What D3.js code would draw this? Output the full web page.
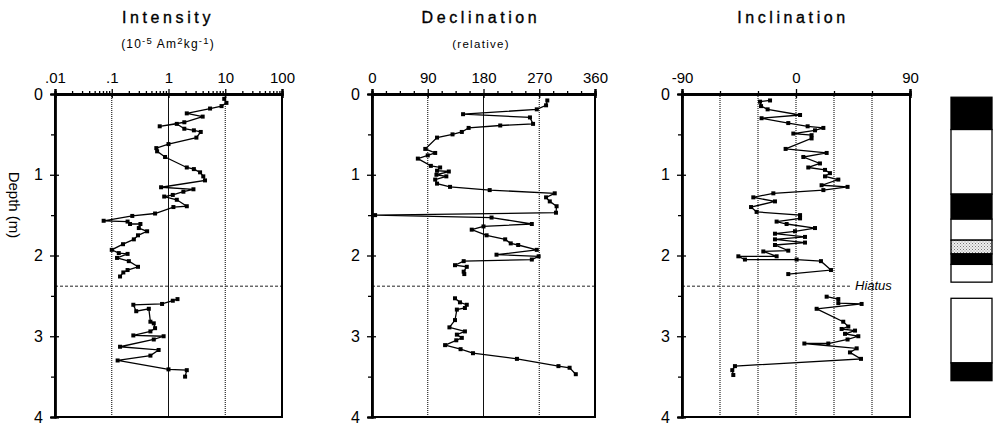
<!DOCTYPE html>
<html>
<head>
<meta charset="utf-8">
<script src="https://cdn.jsdelivr.net/npm/d3@7"></script>
<style>
  body { margin: 0; background: #fff; }
  svg { display: block; font-family: "Liberation Sans", Arial, sans-serif; }
</style>
</head>
<body>
<svg id="chart" width="996" height="424"></svg>
<script>
// depth (m), value
const intensityUpper = [
    [0.06, 9.6], [0.11, 10.5], [0.15, 8.6], [0.18, 5.4], [0.24, 2.1], [0.28, 4.0],
    [0.35, 1.9], [0.40, 0.70], [0.37, 1.4], [0.43, 1.9], [0.45, 2.8], [0.47, 3.7],
    [0.54, 3.1], [0.62, 1.0], [0.67, 0.61], [0.71, 0.63], [0.78, 0.87], [0.91, 2.1],
    [0.93, 2.8], [0.97, 3.6], [1.02, 4.1], [1.07, 4.4], [1.155, 0.74], [1.18, 2.75],
    [1.21, 1.83], [1.25, 1.19], [1.27, 0.84], [1.31, 1.4], [1.39, 2.1], [1.40, 1.22],
    [1.48, 0.58], [1.51, 0.23], [1.57, 0.072], [1.58, 0.19], [1.61, 0.21], [1.61, 0.32],
    [1.66, 0.30], [1.70, 0.42], [1.75, 0.29], [1.80, 0.245], [1.86, 0.158], [1.93, 0.10],
    [1.97, 0.133], [1.98, 0.19], [2.03, 0.124], [2.07, 0.20], [2.14, 0.29], [2.18, 0.19],
    [2.21, 0.16], [2.26, 0.14]
];
const intensityLower = [
    [2.54, 1.44], [2.56, 1.19], [2.60, 0.77], [2.61, 0.24], [2.69, 0.27], [2.66, 0.45],
    [2.82, 0.48], [2.84, 0.55], [2.90, 0.58], [2.94, 0.48], [2.99, 0.24], [3.00, 0.82],
    [3.04, 0.55], [3.13, 0.14], [3.17, 0.67], [3.24, 0.48], [3.30, 0.127], [3.41, 1.0],
    [3.42, 2.1], [3.50, 1.96]
];
const declUpper = [
    [0.08, 283], [0.14, 281], [0.19, 266], [0.25, 147], [0.29, 255], [0.37, 260],
    [0.39, 207], [0.42, 156], [0.47, 145], [0.50, 130], [0.54, 105], [0.68, 86],
    [0.73, 102], [0.76, 90], [0.80, 74], [0.89, 95], [0.91, 110], [0.95, 105],
    [0.96, 124], [1.00, 104], [1.02, 120], [1.06, 102], [1.11, 105], [1.15, 126],
    [1.19, 190], [1.23, 295], [1.28, 281], [1.33, 287], [1.39, 298], [1.47, 297],
    [1.50, 5], [1.53, 193], [1.61, 258], [1.64, 180], [1.68, 161], [1.75, 185],
    [1.80, 215], [1.85, 224], [1.87, 236], [1.93, 266], [1.99, 201], [2.01, 269],
    [2.05, 258], [2.07, 148], [2.12, 134], [2.14, 153], [2.20, 148], [2.23, 149]
];
const declLower = [
    [2.53, 134], [2.58, 142], [2.61, 153], [2.65, 150], [2.67, 137], [2.80, 134],
    [2.89, 125], [2.94, 150], [2.98, 137], [3.02, 145], [3.05, 136], [3.11, 118],
    [3.16, 143], [3.21, 163], [3.28, 234], [3.37, 301], [3.39, 319], [3.47, 329]
];
const inclUpper = [
    [0.08, -20.5], [0.095, -28.4], [0.15, -27.6], [0.19, -22.4], [0.26, 3.2], [0.30, -27.2],
    [0.36, -6.1], [0.40, 9.2], [0.42, 21.6], [0.45, 15], [0.49, -2.1], [0.51, 12.3],
    [0.55, 12.3], [0.68, -8.2], [0.73, 24.2], [0.78, 5.8], [0.86, 18.9], [0.91, 9.7],
    [0.94, 22.9], [0.98, 26.8], [1.02, 22.9], [1.06, 33.4], [1.13, 20.2], [1.15, 40.7],
    [1.19, 21.6], [1.23, -17.9], [1.28, -33.7], [1.33, -16.6], [1.40, -35.5], [1.46, -31.1],
    [1.50, 3.2], [1.54, 3.2], [1.58, -15.3], [1.61, -7.4], [1.66, 15], [1.70, -0.8],
    [1.73, -16.6], [1.77, 7.1], [1.80, -16.6], [1.84, 7.1], [1.87, -16.6], [1.94, -6.1],
    [1.95, -25.8], [2.01, -15.3], [2.01, -45.5], [2.05, -40.3], [2.05, 0.5], [2.07, 19.7],
    [2.18, 27.6], [2.23, -6.1]
];
const inclLower = [
    [2.51, 24.2], [2.54, 33.4], [2.59, 33.4], [2.60, 51.8], [2.66, 16.3], [2.82, 37.3],
    [2.88, 41.3], [2.91, 36], [2.93, 46.6], [2.97, 38.7], [3.00, 49.2], [3.04, 40.7],
    [3.09, 25.5], [3.09, 6.6], [3.15, 47.9], [3.20, 42.6], [3.28, 51.3], [3.37, -48.2],
    [3.42, -50.3], [3.48, -49.5]
];

// polarity zones: top, bottom, type (R reversed, N normal, U uncertain)
const polarityZones = [
    [0.04, 0.44, "R"], [0.44, 1.24, "N"], [1.24, 1.55, "R"], [1.55, 1.81, "N"],
    [1.81, 1.98, "U"], [1.98, 2.11, "R"], [2.11, 2.33, "N"],
    [2.53, 3.33, "N"], [3.33, 3.55, "R"]
];

const depthTicks = [0, 1, 2, 3, 4];
const depthMinor = [0.5, 1.5, 2.5, 3.5];
const hiatusDepth = 2.38;

const intensityTicks = [0.01, 0.1, 1, 10, 100];
const intensityLabels = [".01", ".1", "1", "10", "100"];
const declTicks = [0, 90, 180, 270, 360];
const inclTicks = [-90, 0, 90];

const svg = d3.select("#chart");

const y = d3.scaleLinear().domain([0, 4]).range([94, 417]);

const panels = [
    {
        title: "Intensity", sub: "intensity", titleX: 168,
        x: d3.scaleLog().domain([0.01, 100]).range([55, 282]),
        ticks: intensityTicks, labels: intensityLabels,
        minor: d3.range(-2, 2).flatMap(k => d3.range(2, 10).map(m => m * Math.pow(10, k))),
        grid: [[0.1, true], [1, false], [10, true]],
        series: [intensityUpper, intensityLower]
    },
    {
        title: "Declination", sub: "(relative)", titleX: 481,
        x: d3.scaleLinear().domain([0, 360]).range([372, 595]),
        ticks: declTicks, labels: declTicks.map(String),
        minor: d3.range(0, 361, 22.5).filter(v => v % 90 !== 0),
        grid: [[90, true], [180, false], [270, true]],
        series: [declUpper, declLower]
    },
    {
        title: "Inclination", sub: null, titleX: 793,
        x: d3.scaleLinear().domain([-90, 90]).range([682, 910]),
        ticks: inclTicks, labels: inclTicks.map(String),
        minor: [-60, -30, 30, 60],
        grid: [[-60, true], [-30, true], [0, true], [30, true], [60, true]],
        series: [inclUpper, inclLower],
        hiatusEnd: 852
    }
];

panels.forEach(p => {
    const g = svg.append("g");
    const [x0, x1] = p.x.range();

    // grid lines
    g.selectAll("line.grid")
        .data(p.grid)
        .enter()
        .append("line")
        .attr("x1", d => p.x(d[0])).attr("x2", d => p.x(d[0]))
        .attr("y1", y(0)).attr("y2", y(4))
        .attr("stroke", "#111")
        .attr("stroke-width", d => d[1] ? 1.1 : 1)
        .attr("stroke-dasharray", d => d[1] ? "1,1" : null);

    // hiatus
    g.append("line")
        .attr("x1", x0).attr("x2", p.hiatusEnd || x1)
        .attr("y1", y(hiatusDepth)).attr("y2", y(hiatusDepth))
        .attr("stroke", "#222").attr("stroke-width", 1)
        .attr("stroke-dasharray", "3,2");

    // frame
    g.append("rect")
        .attr("x", x0).attr("y", y(0))
        .attr("width", x1 - x0).attr("height", y(4) - y(0))
        .attr("fill", "none").attr("stroke", "#000").attr("stroke-width", 2);

    // top axis
    const top = g.append("g").attr("transform", `translate(0,${y(0)})`);
    top.call(d3.axisTop(p.x).tickValues(p.ticks).tickFormat((d, i) => p.labels[i]).tickSize(5).tickPadding(6));
    top.append("g").call(d3.axisTop(p.x).tickValues(p.ticks).tickFormat("").tickSize(-4));
    top.append("g").call(d3.axisTop(p.x).tickValues(p.minor).tickFormat("").tickSize(3));
    top.selectAll("path.domain").attr("stroke-width", 2.4);
    top.selectAll("line").attr("stroke", "#000").attr("stroke-width", 1.3);
    top.selectAll("text").attr("font-size", 15).attr("fill", "#000");

    // left depth axis
    const left = g.append("g").attr("transform", `translate(${x0},0)`);
    left.call(d3.axisLeft(y).tickValues(depthTicks).tickFormat(d3.format("d")).tickSize(5).tickPadding(7));
    left.append("g").call(d3.axisLeft(y).tickValues(depthTicks).tickFormat("").tickSize(-4));
    left.append("g").call(d3.axisLeft(y).tickValues(depthMinor).tickFormat("").tickSize(4));
    left.selectAll("path.domain").attr("stroke-width", 2);
    left.selectAll("line").attr("stroke", "#000").attr("stroke-width", 1.3);
    left.selectAll("text").attr("font-size", 16).attr("fill", "#000");

    // data lines and points
    const line = d3.line().x(d => p.x(d[1])).y(d => y(d[0]));
    p.series.forEach(s => {
        g.append("path")
            .datum(s)
            .attr("d", line)
            .attr("fill", "none")
            .attr("stroke", "#000")
            .attr("stroke-width", 1.3);
        g.selectAll(null)
            .data(s)
            .enter()
            .append("rect")
            .attr("x", d => p.x(d[1]) - 2)
            .attr("y", d => y(d[0]) - 2)
            .attr("width", 4).attr("height", 4)
            .attr("fill", "#000");
    });

    // titles
    g.append("text")
        .attr("x", p.titleX).attr("y", 23)
        .attr("text-anchor", "middle")
        .attr("font-size", 16)
        .attr("letter-spacing", 3.6)
        .attr("stroke", "#000").attr("stroke-width", 0.35)
        .text(p.title);

    if (p.sub === "intensity") {
        const t = g.append("text")
            .attr("x", p.titleX).attr("y", 48)
            .attr("text-anchor", "middle")
            .attr("font-size", 12)
            .attr("letter-spacing", 1.2);
        t.append("tspan").text("(10");
        t.append("tspan").attr("dy", -4).attr("font-size", 9.5).text("-5");
        t.append("tspan").attr("dy", 4).text(" Am");
        t.append("tspan").attr("dy", -4).attr("font-size", 9.5).text("2");
        t.append("tspan").attr("dy", 4).text("kg");
        t.append("tspan").attr("dy", -4).attr("font-size", 9.5).text("-1");
        t.append("tspan").attr("dy", 4).text(")");
    } else if (p.sub) {
        g.append("text")
            .attr("x", p.titleX).attr("y", 48)
            .attr("text-anchor", "middle")
            .attr("font-size", 11.5)
            .attr("letter-spacing", 1.3)
            .text(p.sub);
    }
});

// Hiatus label
svg.append("text")
    .attr("x", 855).attr("y", y(hiatusDepth) + 4)
    .attr("font-size", 13)
    .attr("font-style", "italic")
    .text("Hiatus");

// depth label
svg.append("text")
    .attr("transform", "translate(9,205) rotate(90)")
    .attr("text-anchor", "middle")
    .attr("font-size", 15)
    .text("Depth (m)");

// polarity column
const defs = svg.append("defs");
const pat = defs.append("pattern")
    .attr("id", "stipple").attr("patternUnits", "userSpaceOnUse")
    .attr("width", 3).attr("height", 3);
pat.append("rect").attr("width", 3).attr("height", 3).attr("fill", "#eee");
pat.append("rect").attr("width", 1).attr("height", 1).attr("fill", "#777");
pat.append("rect").attr("x", 1.5).attr("y", 1.5).attr("width", 1).attr("height", 1).attr("fill", "#999");

const polFill = { R: "#000", N: "#fff", U: "url(#stipple)" };

svg.append("g")
    .selectAll("rect")
    .data(polarityZones)
    .enter()
    .append("rect")
    .attr("x", 951)
    .attr("y", d => y(d[0]))
    .attr("width", 41)
    .attr("height", d => y(d[1]) - y(d[0]))
    .attr("fill", d => polFill[d[2]])
    .attr("stroke", "#000")
    .attr("stroke-width", 1.3);
</script>
</body>
</html>
